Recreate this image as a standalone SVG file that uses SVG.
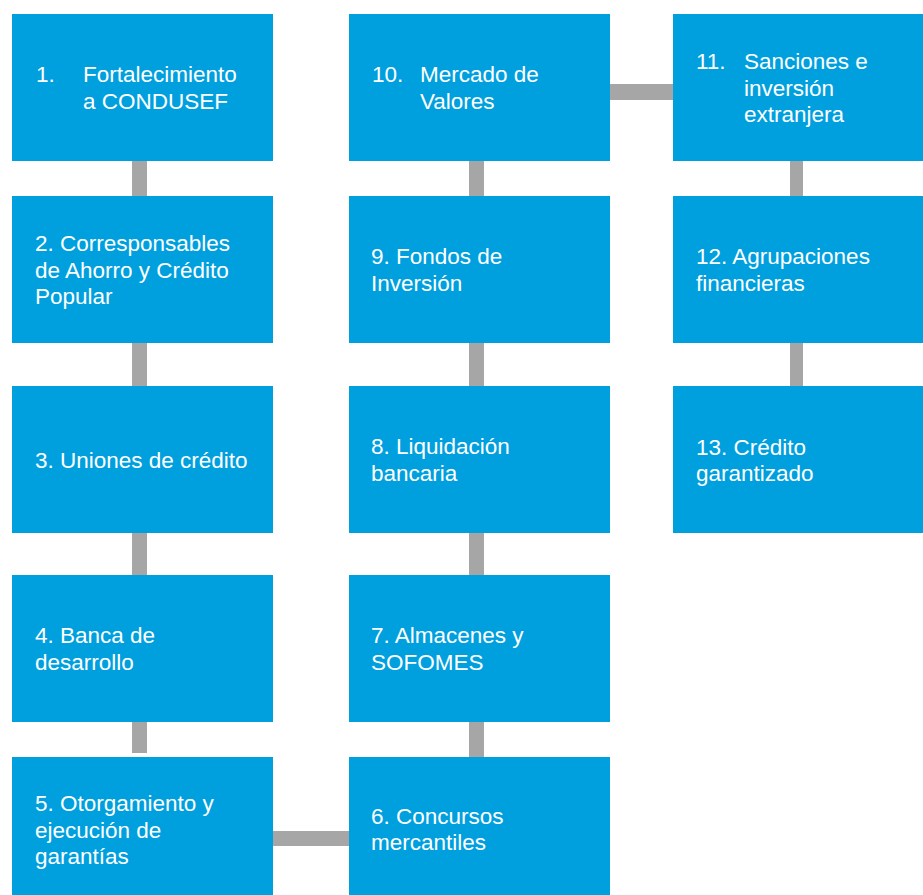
<svg xmlns="http://www.w3.org/2000/svg" width="923" height="895" viewBox="0 0 923 895">
<style>
.box{fill:#00A0DF}
.con{fill:#A6A6A6}
text{font-family:"Liberation Sans",Arial,sans-serif;font-size:22.5px;fill:#FFFFFF}
</style>
<rect width="923" height="895" fill="#FFFFFF"/>
<g id="connectors">
<rect class="con" x="132" y="160" width="15" height="37"/>
<rect class="con" x="132" y="342" width="15" height="45"/>
<rect class="con" x="132" y="532" width="15" height="44"/>
<rect class="con" x="132" y="721" width="15" height="32"/>
<rect class="con" x="272" y="831" width="78" height="15"/>
<rect class="con" x="469" y="721" width="15" height="37"/>
<rect class="con" x="469" y="532" width="15" height="44"/>
<rect class="con" x="469" y="342" width="15" height="45"/>
<rect class="con" x="469" y="160" width="15" height="37"/>
<rect class="con" x="609" y="84" width="65" height="16"/>
<rect class="con" x="790" y="160" width="13" height="37"/>
<rect class="con" x="790" y="342" width="13" height="45"/>
</g>
<g id="n1"><rect class="box" x="12" y="14" width="261" height="147"/><text x="36" y="82">1.</text><text x="83" y="82">Fortalecimiento</text><text x="83" y="109">a CONDUSEF</text></g>
<g id="n2"><rect class="box" x="12" y="196" width="261" height="147"/><text x="35" y="251">2. Corresponsables</text><text x="35" y="277.5">de Ahorro y Crédito</text><text x="35" y="304">Popular</text></g>
<g id="n3"><rect class="box" x="12" y="386" width="261" height="147"/><text x="35" y="468">3. Uniones de crédito</text></g>
<g id="n4"><rect class="box" x="12" y="575" width="261" height="147"/><text x="35" y="643">4. Banca de</text><text x="35" y="670">desarrollo</text></g>
<g id="n5"><rect class="box" x="12" y="757" width="261" height="147"/><text x="35" y="811">5. Otorgamiento y</text><text x="35" y="838">ejecución de</text><text x="35" y="864">garantías</text></g>
<g id="n6"><rect class="box" x="349" y="757" width="261" height="147"/><text x="371" y="824">6. Concursos</text><text x="371" y="850">mercantiles</text></g>
<g id="n7"><rect class="box" x="349" y="575" width="261" height="147"/><text x="371" y="643">7. Almacenes y</text><text x="371" y="670">SOFOMES</text></g>
<g id="n8"><rect class="box" x="349" y="386" width="261" height="147"/><text x="371" y="454">8. Liquidación</text><text x="371" y="481">bancaria</text></g>
<g id="n9"><rect class="box" x="349" y="196" width="261" height="147"/><text x="371" y="264">9. Fondos de</text><text x="371" y="291">Inversión</text></g>
<g id="n10"><rect class="box" x="349" y="14" width="261" height="147"/><text x="372" y="82">10.</text><text x="420" y="82">Mercado de</text><text x="420" y="109">Valores</text></g>
<g id="n11"><rect class="box" x="673" y="14" width="261" height="147"/><text x="696" y="69">11.</text><text x="744" y="69">Sanciones e</text><text x="744" y="95.5">inversión</text><text x="744" y="122">extranjera</text></g>
<g id="n12"><rect class="box" x="673" y="196" width="261" height="147"/><text x="696" y="264">12. Agrupaciones</text><text x="696" y="291">financieras</text></g>
<g id="n13"><rect class="box" x="673" y="386" width="261" height="147"/><text x="696" y="455">13. Crédito</text><text x="696" y="481">garantizado</text></g>
</svg>
